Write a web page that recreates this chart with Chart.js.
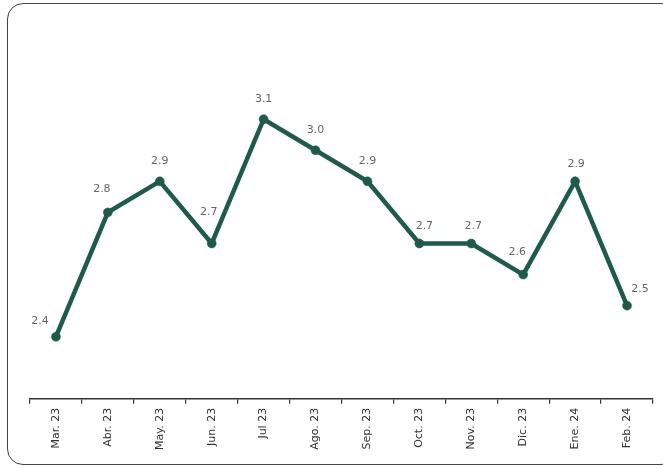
<!DOCTYPE html>
<html>
<head>
<meta charset="utf-8">
<script src="https://cdn.jsdelivr.net/npm/chart.js@4/dist/chart.umd.min.js"></script>
<style>
  html, body { margin: 0; padding: 0; background: #fff; overflow: hidden; }
  #frame {
    position: absolute; left: 7px; top: 3px; width: 670px; height: 462px;
    border: 1.5px solid #444; border-radius: 16px; box-sizing: border-box;
  }
  #wrap { position: absolute; left: 0; top: 0; width: 663px; height: 468px; }
</style>
</head>
<body>
<div id="frame"></div>
<div id="wrap"><canvas id="chart"></canvas></div>
<script>
const months = ["Mar. 23", "Abr. 23", "May. 23", "Jun. 23", "Jul 23", "Ago. 23",
                "Sep. 23", "Oct. 23", "Nov. 23", "Dic. 23", "Ene. 24", "Feb. 24"];
const values = [2.4, 2.8, 2.9, 2.7, 3.1, 3.0, 2.9, 2.7, 2.7, 2.6, 2.9, 2.5];

const green = "#1f5a4a";

// label nudges so text clears the line (index -> [dx, dy])
const nudges = { 0: [-16, -16], 1: [-6, -23], 3: [-3, -31], 7: [5, -17],
                 8: [2, -17], 9: [-6, -22], 10: [1, -17], 11: [13, -16] };

const pointLabels = {
  id: "pointLabels",
  afterDatasetsDraw(chart) {
    const ctx = chart.ctx;
    const meta = chart.getDatasetMeta(0);
    ctx.save();
    ctx.font = "11px 'DejaVu Sans', sans-serif";
    ctx.fillStyle = "#666";
    ctx.textAlign = "center";
    ctx.textBaseline = "middle";
    meta.data.forEach((pt, i) => {
      const [dx, dy] = nudges[i] || [0, -20];
      ctx.fillText(values[i].toFixed(1), pt.x + dx, pt.y + dy);
    });
    ctx.restore();
  }
};

new Chart(document.getElementById("chart"), {
  type: "line",
  data: {
    labels: months,
    datasets: [{
      data: values,
      borderColor: green,
      backgroundColor: green,
      borderWidth: 4.5,
      pointRadius: 4.5,
      pointHoverRadius: 4.5,
      pointBorderWidth: 0.5,
      tension: 0,
      fill: false
    }]
  },
  options: {
    responsive: true,
    maintainAspectRatio: false,
    animation: false,
    layout: { padding: { left: 30, right: 10, top: 26, bottom: 14 } },
    plugins: { legend: { display: false }, tooltip: { enabled: false } },
    scales: {
      x: {
        offset: true,
        border: { display: true, color: "#333", width: 1.5 },
        grid: {
          offset: true, drawOnChartArea: false, drawTicks: true,
          tickLength: 5, color: "#333", lineWidth: 1.2
        },
        ticks: {
          color: "#333", padding: 4, minRotation: 90, maxRotation: 90,
          font: { family: "'DejaVu Sans', sans-serif", size: 11 }
        }
      },
      y: { display: false, min: 2.2, max: 3.4 }
    }
  },
  plugins: [pointLabels]
});
</script>
</body>
</html>
